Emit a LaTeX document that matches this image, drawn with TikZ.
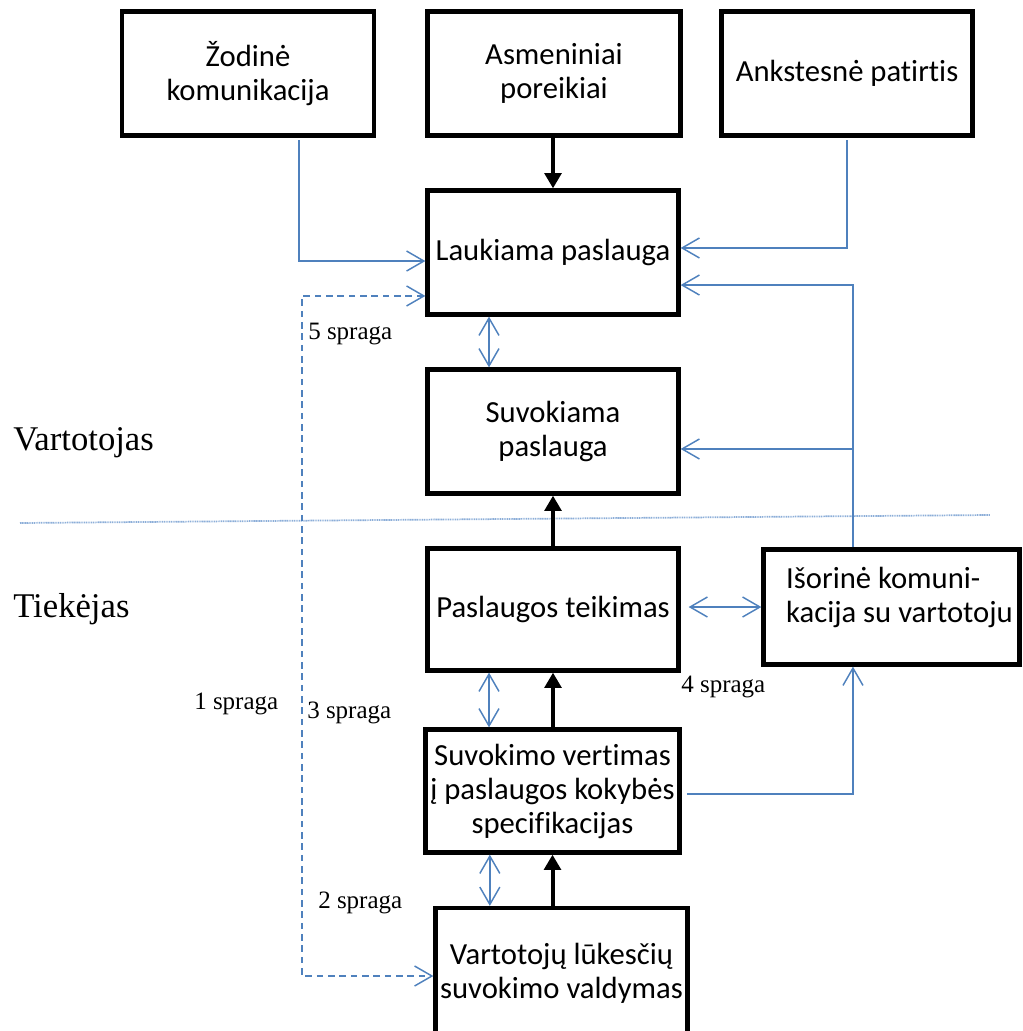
\documentclass[tikz,border=0pt]{standalone}
\usepackage{fontspec}
\newfontfamily\boxfont[Ligatures=NoCommon]{Carlito}
\newfontfamily\gapfont{Liberation Serif}
\usetikzlibrary{arrows.meta}
\definecolor{linkblue}{RGB}{79,129,189}
\definecolor{sepblue}{RGB}{140,174,216}

\begin{document}
\begin{tikzpicture}[x=0.75pt,y=-0.75pt,
  box/.style={draw=black, line width=3.2pt, rectangle, inner sep=0pt, align=center,
    font=\boxfont\fontsize{23}{25.5}\selectfont},
  boxtext/.style={inner sep=0pt, align=left, font=\boxfont\fontsize{23}{25.5}\selectfont},
  flow/.style={line width=3pt, -{Triangle[length=11.5pt,width=12.5pt]}},
  barb/.tip={Straight Barb[length=13pt,width=15pt]},
  link/.style={draw=linkblue, line width=1.1pt, -barb},
  both/.style={draw=linkblue, line width=1.1pt, barb-barb},
  gapline/.style={dash pattern=on 5pt off 3.5pt},
  sepline/.style={draw=sepblue, line width=1.3pt, dash pattern=on 0.8pt off 0.5pt},
  gaplabel/.style={font=\gapfont\fontsize{18.75}{22}\selectfont, anchor=base west, inner sep=0pt},
  sidelabel/.style={font=\gapfont\fontsize{26}{30}\selectfont, anchor=base west, inner sep=0pt}
]
\useasboundingbox (0,0) rectangle (1023,1031);

% consumer / provider divider
\coordinate (sepL) at (20,523);
\coordinate (sepR) at (990,515);
\draw[sepline] (sepL) -- (sepR);

% boxes
\node[box, minimum width=189pt, minimum height=93pt] (zod) at (248,73.5) {Žodinė\\komunikacija};
\node[box, minimum width=189.75pt, minimum height=93pt] (asm) at (554,73.5) {Asmeniniai\\poreikiai};
\node[box, minimum width=188.25pt, minimum height=93pt] (ank) at (847,73.5) {Ankstesnė patirtis};
\node[box, minimum width=188.25pt, minimum height=93pt] (lauk) at (553,252.5) {Laukiama paslauga};
\node[box, minimum width=188.25pt, minimum height=93pt] (suv) at (553,431.5) {Suvokiama\\paslauga};
\node[box, minimum width=188.25pt, minimum height=91.5pt] (teik) at (553,609.5) {Paslaugos teikimas};
\node[box, minimum width=192pt, minimum height=86.25pt] (isor) at (891.5,607) {};
\node[boxtext, anchor=west] (isortxt) at ([xshift=18.4pt,yshift=7.5pt]isor.west) {Išorinė komuni-\\kacija su vartotoju};
\node[box, minimum width=190.5pt, minimum height=92.25pt] (vert) at (552.5,791) {Suvokimo vertimas\\į paslaugos kokybės\\specifikacijas};
\node[box, minimum width=189pt, minimum height=97.5pt] (lukes) at (561.5,973) {Vartotojų lūkesčių\\suvokimo valdymas};

% main flow
\draw[flow] (asm.south -| lauk.north) -- (lauk.north);
\draw[flow] (teik.north) -- (suv.south);
\draw[flow] (vert.north -| teik.south) -- (teik.south);
\draw[flow] (lukes.north -| vert.south) -- (vert.south);

% influences on expected service
\draw[link] ([xshift=38.25pt,yshift=-2pt]zod.south) |- ([yshift=-6.4pt]lauk.west);
\draw[link] ([yshift=-2pt]ank.south) |- ([yshift=3.4pt]lauk.east);
\coordinate (isorTop) at ([xshift=-28.9pt]isor.north);
\coordinate (suvIn) at ([yshift=-13.1pt]suv.east);
\draw[link] (isorTop) |- ([yshift=-24.4pt]lauk.east);
\draw[link] (isorTop |- suvIn) -- (suvIn);
\draw[link] ([xshift=4pt,yshift=-2.25pt]vert.east) -| (isorTop |- isor.south);

% gaps
\draw[both] ([xshift=6pt]teik.east |- isor.west) -- (isor.west);
\draw[both] ([xshift=-48pt]lauk.south) -- ([xshift=-48pt]suv.north);
\draw[both] ([xshift=-48pt]teik.south) -- ([xshift=-48pt]teik.south |- vert.north);
\draw[both] ([xshift=-47pt]vert.south) -- ([xshift=-47pt]vert.south |- lukes.north);
\coordinate (gapBot) at (302,976);
\draw[both, gapline] ([yshift=-32.6pt]lauk.west) -| (gapBot) -- (lukes.west |- gapBot);

% labels
\node[gaplabel] (g5) at (308,339) {5 spraga};
\node[gaplabel] (g1) at (194,709) {1 spraga};
\node[gaplabel] (g3) at (307,718) {3 spraga};
\node[gaplabel] (g4) at (681,692) {4 spraga};
\node[gaplabel] (g2) at (318,908) {2 spraga};
\node[sidelabel] (cons) at (13,450) {Vartotojas};
\node[sidelabel] (prov) at (13,617) {Tiekėjas};
\end{tikzpicture}
\end{document}
